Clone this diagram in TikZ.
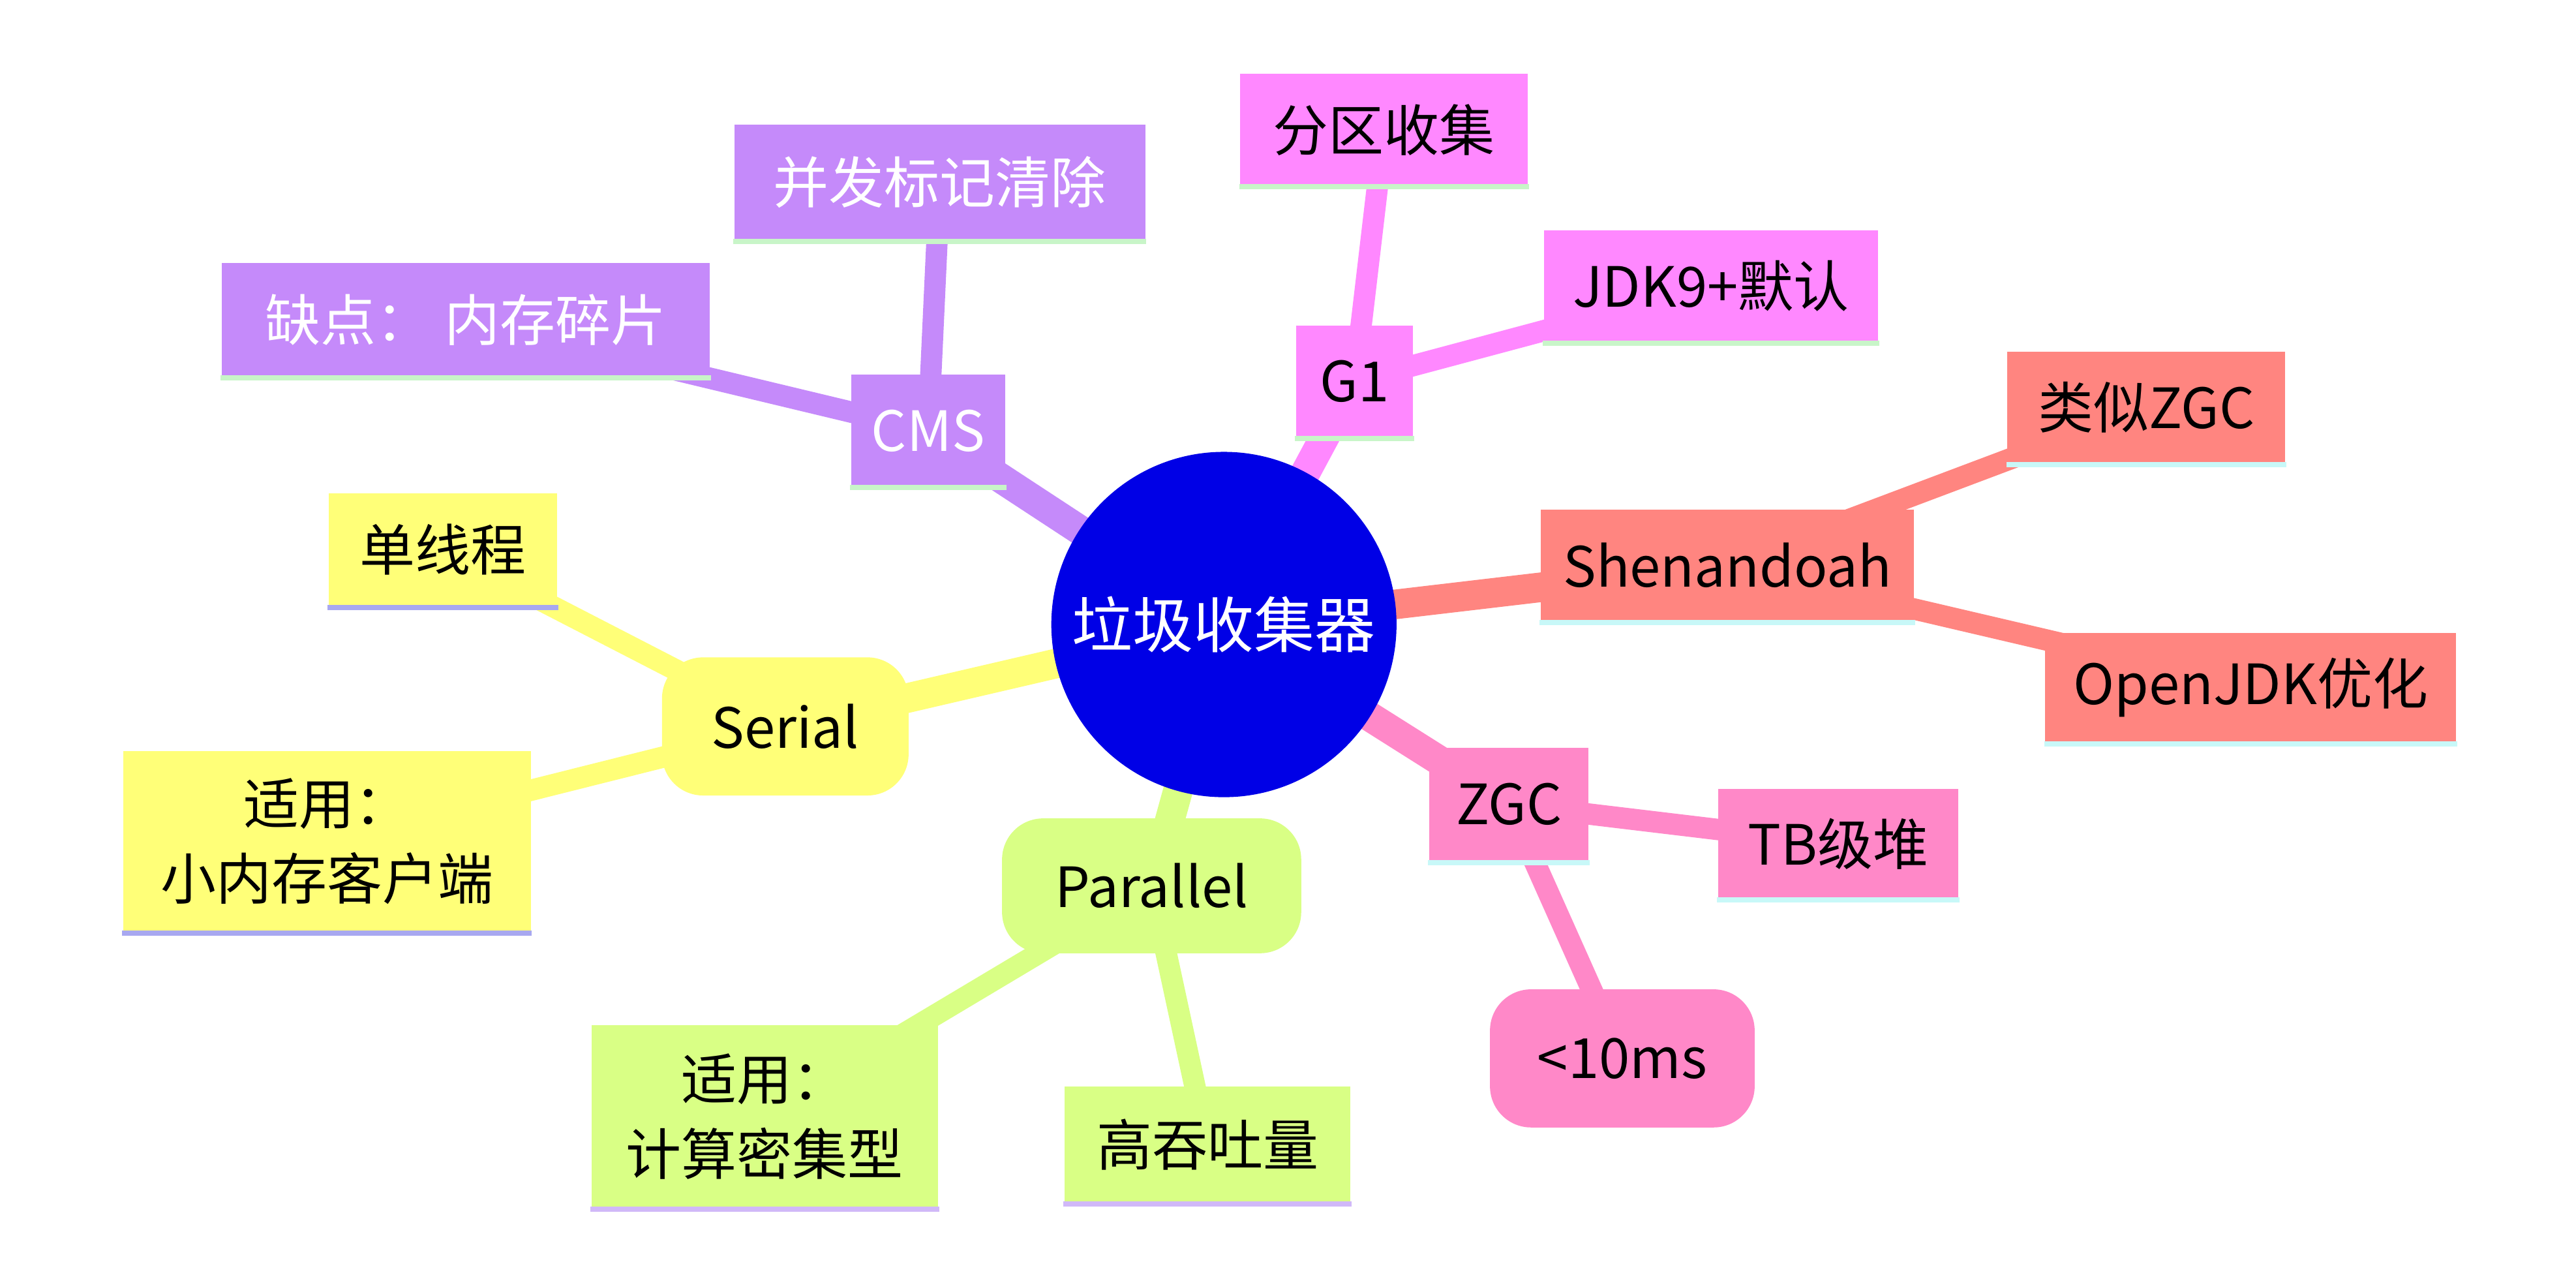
\documentclass[tikz,border=0pt]{standalone}
\usepackage{fontspec}
\setmainfont{Noto Sans CJK SC}
\usetikzlibrary{backgrounds}
\definecolor{cpur}{HTML}{C58AFA}
\definecolor{cmag}{HTML}{FF88FF}
\definecolor{csal}{HTML}{FF8580}
\definecolor{cpink}{HTML}{FF88C8}
\definecolor{cyel}{HTML}{FFFF78}
\definecolor{clime}{HTML}{D9FF85}
\definecolor{croot}{HTML}{0000E6}
\definecolor{ugreen}{HTML}{C8F5C8}
\definecolor{ublue}{HTML}{A8A8F0}
\definecolor{ulav}{HTML}{D0B8F8}
\definecolor{ucyan}{HTML}{C8F8F8}
\begin{document}
\begin{tikzpicture}[x=0.01cm,y=-0.01cm,
  box/.style={rectangle,inner sep=0pt,align=center,font=\fontsize{9.6}{13}\selectfont},
  rbox/.style={box,rounded corners=0.25cm},
  e1/.style={line width=0.18cm},
  e2/.style={line width=0.13cm},
  ul/.style={line width=0.9pt}]
\useasboundingbox (0,0) rectangle (1568,778);
\node[circle,fill=croot,minimum size=2.1cm,inner sep=0pt,text=white,font=\fontsize{10.5}{12}\selectfont] (root) at (745,380) {垃圾收集器};
\node[box,fill=cpur,text=white,minimum width=0.94cm,minimum height=0.68cm] (cms) at (565,262) {CMS};
\node[box,fill=cpur,text=white,minimum width=2.50cm,minimum height=0.70cm] (cms1) at (572,111) {并发标记清除};
\node[box,fill=cpur,text=white,minimum width=2.97cm,minimum height=0.69cm] (cms2) at (283.5,194.5) {缺点：\ 内存碎片};
\node[box,fill=cmag,minimum width=0.71cm,minimum height=0.68cm] (g1) at (824.5,232) {G1};
\node[box,fill=cmag,minimum width=1.75cm,minimum height=0.68cm] (g11) at (842.5,79) {分区收集};
\node[box,fill=cmag,minimum width=2.03cm,minimum height=0.68cm] (g12) at (1041.5,174) {JDK9+默认};
\node[box,fill=csal,minimum width=2.27cm,minimum height=0.68cm] (sh) at (1051.5,344) {Shenandoah};
\node[box,fill=csal,minimum width=1.69cm,minimum height=0.68cm] (sh1) at (1306.5,248) {类似ZGC};
\node[box,fill=csal,minimum width=2.50cm,minimum height=0.67cm] (sh2) at (1370,418.5) {OpenJDK优化};
\node[box,fill=cpink,minimum width=0.97cm,minimum height=0.69cm] (z) at (918.5,489.5) {ZGC};
\node[box,fill=cpink,minimum width=1.46cm,minimum height=0.67cm] (z1) at (1119,513.5) {TB级堆};
\node[rbox,fill=cpink,minimum width=1.61cm,minimum height=0.84cm] (z2) at (987.5,644) {<10ms};
\node[rbox,fill=cyel,minimum width=1.50cm,minimum height=0.84cm] (se) at (478,442) {Serial};
\node[box,fill=cyel,minimum width=1.39cm,minimum height=0.69cm] (se1) at (269.5,334.5) {单线程};
\node[box,fill=cyel,minimum width=2.48cm,minimum height=1.10cm] (se2) at (199,512) {适用：\\小内存客户端};
\node[rbox,fill=clime,minimum width=1.82cm,minimum height=0.82cm] (pa) at (701,539) {Parallel};
\node[box,fill=clime,minimum width=2.11cm,minimum height=1.11cm] (pa1) at (465.5,679.5) {适用：\\计算密集型};
\node[box,fill=clime,minimum width=1.74cm,minimum height=0.71cm] (pa2) at (735,696.5) {高吞吐量};
\begin{scope}[on background layer]
\draw[e1,cpur] (root.center) -- (cms.center); \draw[e2,cpur] (cms.center) -- (cms1.center); \draw[e2,cpur] (cms.center) -- (cms2.center);
\draw[e1,cmag] (root.center) -- (g1.center); \draw[e2,cmag] (g1.center) -- (g11.center); \draw[e2,cmag] (g1.center) -- (g12.center);
\draw[e1,csal] (root.center) -- (sh.center); \draw[e2,csal] (sh.center) -- (sh1.center); \draw[e2,csal] (sh.center) -- (sh2.center);
\draw[e1,cpink] (root.center) -- (z.center); \draw[e2,cpink] (z.center) -- (z1.center); \draw[e2,cpink] (z.center) -- (z2.center);
\draw[e1,cyel] (root.center) -- (se.center); \draw[e2,cyel] (se.center) -- (se1.center); \draw[e2,cyel] (se.center) -- (se2.center);
\draw[e1,clime] (root.center) -- (pa.center); \draw[e2,clime] (pa.center) -- (pa1.center); \draw[e2,clime] (pa.center) -- (pa2.center);
\end{scope}
\foreach \n in {cms,cms1,cms2,g1,g11,g12} \draw[ul,ugreen] (\n.south west) -- (\n.south east);
\foreach \n in {sh,sh1,sh2,z,z1} \draw[ul,ucyan] (\n.south west) -- (\n.south east);
\foreach \n in {se1,se2} \draw[ul,ublue] (\n.south west) -- (\n.south east);
\foreach \n in {pa1,pa2} \draw[ul,ulav] (\n.south west) -- (\n.south east);
\end{tikzpicture}
\end{document}
